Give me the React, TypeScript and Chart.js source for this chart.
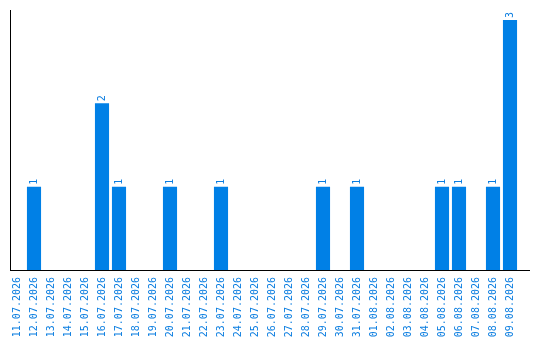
import React, { useEffect, useRef } from "react";
import { Chart, registerables } from "chart.js";

Chart.register(...registerables);

const dates: string[] = [
  "11.07.2026", "12.07.2026", "13.07.2026", "14.07.2026", "15.07.2026",
  "16.07.2026", "17.07.2026", "18.07.2026", "19.07.2026", "20.07.2026",
  "21.07.2026", "22.07.2026", "23.07.2026", "24.07.2026", "25.07.2026",
  "26.07.2026", "27.07.2026", "28.07.2026", "29.07.2026", "30.07.2026",
  "31.07.2026", "01.08.2026", "02.08.2026", "03.08.2026", "04.08.2026",
  "05.08.2026", "06.08.2026", "07.08.2026", "08.08.2026", "09.08.2026",
];

const counts: number[] = [
  0, 1, 0, 0, 0,
  2, 1, 0, 0, 1,
  0, 0, 1, 0, 0,
  0, 0, 0, 1, 0,
  1, 0, 0, 0, 0,
  1, 1, 0, 1, 3,
];

const BLUE = "#0080e6";
const TEXT_BLUE = "#0a7de0";
const MONO = "'DejaVu Sans Mono', monospace";

// Axis lines and value labels drawn on top of the bars
const decorations = {
  id: "decorations",
  afterDatasetsDraw(chart: any) {
    const { ctx, chartArea } = chart;
    const meta = chart.getDatasetMeta(0);
    ctx.save();
    ctx.strokeStyle = "#000";
    ctx.lineWidth = 1;
    ctx.beginPath();
    const ax = chartArea.left + 2;
    const ay = chartArea.bottom + 0.5;
    ctx.moveTo(ax, chartArea.top);
    ctx.lineTo(ax, ay);
    ctx.moveTo(ax - 0.5, ay);
    ctx.lineTo(chartArea.right + 11.5, ay);
    ctx.stroke();

    ctx.fillStyle = TEXT_BLUE;
    ctx.font = `10px ${MONO}`;
    ctx.textAlign = "left";
    ctx.textBaseline = "middle";
    meta.data.forEach((bar: any, i: number) => {
      const v = counts[i];
      if (!v) return;
      ctx.save();
      ctx.translate(bar.x, bar.y - 2);
      ctx.rotate(-Math.PI / 2);
      ctx.fillText(String(v), 0, 0);
      ctx.restore();
    });
    ctx.restore();
  },
};

export default function App() {
  const canvasRef = useRef<HTMLCanvasElement | null>(null);

  useEffect(() => {
    document.body.style.margin = "0";
    const canvas = canvasRef.current;
    if (!canvas) return;
    const chart = new Chart(canvas, {
      type: "bar",
      data: {
        labels: dates,
        datasets: [
          {
            data: counts,
            backgroundColor: BLUE,
            borderWidth: 0,
            barPercentage: 0.83,
            categoryPercentage: 1,
          },
        ],
      },
      options: {
        animation: false,
        responsive: false,
        maintainAspectRatio: false,
        layout: { padding: { left: 8.5, top: 10, right: 21.5, bottom: 0 } },
        plugins: {
          legend: { display: false },
          tooltip: { enabled: false },
        },
        scales: {
          x: {
            type: "category",
            offset: true,
            border: { display: false },
            grid: { display: false, drawTicks: false },
            ticks: {
              color: TEXT_BLUE,
              font: { family: MONO, size: 10 },
              minRotation: 90,
              maxRotation: 90,
              autoSkip: false,
              padding: 7,
            },
            afterFit(scale: any) {
              scale.height = 70;
            },
          },
          y: {
            display: false,
            min: 0,
            max: 3.12,
          },
        },
      },
      plugins: [decorations],
    });
    return () => chart.destroy();
  }, []);

  return (
    <div style={{ position: "absolute", left: 0, top: 0, width: 540, height: 340, background: "#fff" }}>
      <canvas ref={canvasRef} width={540} height={340} style={{ display: "block" }} />
    </div>
  );
}
